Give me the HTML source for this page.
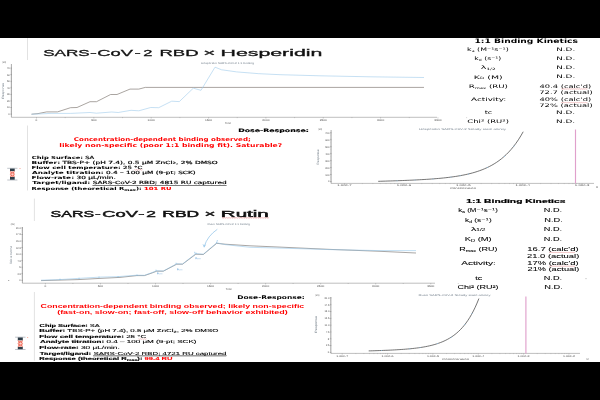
<!DOCTYPE html><html><head><meta charset="utf-8"><title>SPR summary</title><style>html,body{margin:0;padding:0;background:#000;width:600px;height:400px;overflow:hidden}svg{display:block;will-change:transform}</style></head><body>
<svg width="600" height="400" viewBox="0 0 600 400">
<rect x="0" y="0" width="600" height="400" fill="#000"/>
<rect x="0" y="38" width="600" height="324" fill="#fff"/>
<line x1="27.50" y1="38.00" x2="27.50" y2="60.00" stroke="#dadada" stroke-width="0.8" />
<line x1="27.50" y1="125.50" x2="27.50" y2="190.50" stroke="#dadada" stroke-width="0.8" />
<text x="43.22" y="56.00" font-size="9.8" font-family="'Liberation Sans', 'DejaVu Sans', sans-serif" font-weight="normal" fill="#111" text-anchor="start" textLength="46.56" lengthAdjust="spacingAndGlyphs" stroke="#111" stroke-width="0.3">SARS</text>
<text x="90.09" y="56.00" font-size="9.8" font-family="'Liberation Sans', 'DejaVu Sans', sans-serif" font-weight="normal" fill="#111" text-anchor="start" textLength="6.82" lengthAdjust="spacingAndGlyphs" stroke="#111" stroke-width="0.3">-</text>
<text x="97.37" y="56.00" font-size="9.8" font-family="'Liberation Sans', 'DejaVu Sans', sans-serif" font-weight="normal" fill="#111" text-anchor="start" textLength="35.61" lengthAdjust="spacingAndGlyphs" stroke="#111" stroke-width="0.3">CoV</text>
<text x="134.56" y="56.00" font-size="9.8" font-family="'Liberation Sans', 'DejaVu Sans', sans-serif" font-weight="normal" fill="#111" text-anchor="start" textLength="6.27" lengthAdjust="spacingAndGlyphs" stroke="#111" stroke-width="0.3">-</text>
<text x="143.37" y="56.00" font-size="9.8" font-family="'Liberation Sans', 'DejaVu Sans', sans-serif" font-weight="normal" fill="#111" text-anchor="start" textLength="9.16" lengthAdjust="spacingAndGlyphs" stroke="#111" stroke-width="0.3">2</text>
<text x="159.48" y="56.00" font-size="9.8" font-family="'Liberation Sans', 'DejaVu Sans', sans-serif" font-weight="normal" fill="#111" text-anchor="start" textLength="39.11" lengthAdjust="spacingAndGlyphs" stroke="#111" stroke-width="0.3">RBD</text>
<text x="203.25" y="56.00" font-size="9.8" font-family="'Liberation Sans', 'DejaVu Sans', sans-serif" font-weight="normal" fill="#111" text-anchor="start" textLength="12.18" lengthAdjust="spacingAndGlyphs" stroke="#111" stroke-width="0.3">×</text>
<text x="220.55" y="56.00" font-size="9.8" font-family="'Liberation Sans', 'DejaVu Sans', sans-serif" font-weight="normal" fill="#111" text-anchor="start" textLength="101.83" lengthAdjust="spacingAndGlyphs" stroke="#111" stroke-width="0.3">Hesperidin</text>
<line x1="11.40" y1="64.00" x2="11.40" y2="117.30" stroke="#666" stroke-width="0.55" />
<line x1="10.30" y1="114.10" x2="11.80" y2="114.10" stroke="#666" stroke-width="0.45" />
<line x1="10.30" y1="107.53" x2="11.80" y2="107.53" stroke="#666" stroke-width="0.45" />
<line x1="10.30" y1="100.96" x2="11.80" y2="100.96" stroke="#666" stroke-width="0.45" />
<line x1="10.30" y1="94.39" x2="11.80" y2="94.39" stroke="#666" stroke-width="0.45" />
<line x1="10.30" y1="87.82" x2="11.80" y2="87.82" stroke="#666" stroke-width="0.45" />
<line x1="10.30" y1="81.25" x2="11.80" y2="81.25" stroke="#666" stroke-width="0.45" />
<line x1="10.30" y1="74.68" x2="11.80" y2="74.68" stroke="#666" stroke-width="0.45" />
<line x1="10.30" y1="68.11" x2="11.80" y2="68.11" stroke="#666" stroke-width="0.45" />
<line x1="10.80" y1="112.79" x2="11.40" y2="112.79" stroke="#666" stroke-width="0.3" />
<line x1="10.80" y1="111.47" x2="11.40" y2="111.47" stroke="#666" stroke-width="0.3" />
<line x1="10.80" y1="110.16" x2="11.40" y2="110.16" stroke="#666" stroke-width="0.3" />
<line x1="10.80" y1="108.84" x2="11.40" y2="108.84" stroke="#666" stroke-width="0.3" />
<line x1="10.80" y1="106.22" x2="11.40" y2="106.22" stroke="#666" stroke-width="0.3" />
<line x1="10.80" y1="104.90" x2="11.40" y2="104.90" stroke="#666" stroke-width="0.3" />
<line x1="10.80" y1="103.59" x2="11.40" y2="103.59" stroke="#666" stroke-width="0.3" />
<line x1="10.80" y1="102.27" x2="11.40" y2="102.27" stroke="#666" stroke-width="0.3" />
<line x1="10.80" y1="99.65" x2="11.40" y2="99.65" stroke="#666" stroke-width="0.3" />
<line x1="10.80" y1="98.33" x2="11.40" y2="98.33" stroke="#666" stroke-width="0.3" />
<line x1="10.80" y1="97.02" x2="11.40" y2="97.02" stroke="#666" stroke-width="0.3" />
<line x1="10.80" y1="95.70" x2="11.40" y2="95.70" stroke="#666" stroke-width="0.3" />
<line x1="10.80" y1="93.08" x2="11.40" y2="93.08" stroke="#666" stroke-width="0.3" />
<line x1="10.80" y1="91.76" x2="11.40" y2="91.76" stroke="#666" stroke-width="0.3" />
<line x1="10.80" y1="90.45" x2="11.40" y2="90.45" stroke="#666" stroke-width="0.3" />
<line x1="10.80" y1="89.13" x2="11.40" y2="89.13" stroke="#666" stroke-width="0.3" />
<line x1="10.80" y1="86.51" x2="11.40" y2="86.51" stroke="#666" stroke-width="0.3" />
<line x1="10.80" y1="85.19" x2="11.40" y2="85.19" stroke="#666" stroke-width="0.3" />
<line x1="10.80" y1="83.88" x2="11.40" y2="83.88" stroke="#666" stroke-width="0.3" />
<line x1="10.80" y1="82.56" x2="11.40" y2="82.56" stroke="#666" stroke-width="0.3" />
<line x1="10.80" y1="79.94" x2="11.40" y2="79.94" stroke="#666" stroke-width="0.3" />
<line x1="10.80" y1="78.62" x2="11.40" y2="78.62" stroke="#666" stroke-width="0.3" />
<line x1="10.80" y1="77.31" x2="11.40" y2="77.31" stroke="#666" stroke-width="0.3" />
<line x1="10.80" y1="75.99" x2="11.40" y2="75.99" stroke="#666" stroke-width="0.3" />
<line x1="10.80" y1="73.37" x2="11.40" y2="73.37" stroke="#666" stroke-width="0.3" />
<line x1="10.80" y1="72.05" x2="11.40" y2="72.05" stroke="#666" stroke-width="0.3" />
<line x1="10.80" y1="70.74" x2="11.40" y2="70.74" stroke="#666" stroke-width="0.3" />
<line x1="10.80" y1="69.42" x2="11.40" y2="69.42" stroke="#666" stroke-width="0.3" />
<line x1="11.40" y1="117.30" x2="437.00" y2="117.30" stroke="#8a8a8a" stroke-width="0.55" />
<text x="9.80" y="115.00" font-size="2.6" font-family="'Liberation Sans', 'DejaVu Sans', sans-serif" font-weight="normal" fill="#505050" text-anchor="end" textLength="1.45" lengthAdjust="spacingAndGlyphs" text-rendering="geometricPrecision" >0</text>
<text x="9.80" y="108.43" font-size="2.6" font-family="'Liberation Sans', 'DejaVu Sans', sans-serif" font-weight="normal" fill="#505050" text-anchor="end" textLength="2.90" lengthAdjust="spacingAndGlyphs" text-rendering="geometricPrecision" >10</text>
<text x="9.80" y="101.86" font-size="2.6" font-family="'Liberation Sans', 'DejaVu Sans', sans-serif" font-weight="normal" fill="#505050" text-anchor="end" textLength="2.90" lengthAdjust="spacingAndGlyphs" text-rendering="geometricPrecision" >20</text>
<text x="9.80" y="95.29" font-size="2.6" font-family="'Liberation Sans', 'DejaVu Sans', sans-serif" font-weight="normal" fill="#505050" text-anchor="end" textLength="2.90" lengthAdjust="spacingAndGlyphs" text-rendering="geometricPrecision" >30</text>
<text x="9.80" y="88.72" font-size="2.6" font-family="'Liberation Sans', 'DejaVu Sans', sans-serif" font-weight="normal" fill="#505050" text-anchor="end" textLength="2.90" lengthAdjust="spacingAndGlyphs" text-rendering="geometricPrecision" >40</text>
<text x="9.80" y="82.15" font-size="2.6" font-family="'Liberation Sans', 'DejaVu Sans', sans-serif" font-weight="normal" fill="#505050" text-anchor="end" textLength="2.90" lengthAdjust="spacingAndGlyphs" text-rendering="geometricPrecision" >50</text>
<text x="9.80" y="75.58" font-size="2.6" font-family="'Liberation Sans', 'DejaVu Sans', sans-serif" font-weight="normal" fill="#505050" text-anchor="end" textLength="2.90" lengthAdjust="spacingAndGlyphs" text-rendering="geometricPrecision" >60</text>
<text x="9.80" y="69.01" font-size="2.6" font-family="'Liberation Sans', 'DejaVu Sans', sans-serif" font-weight="normal" fill="#505050" text-anchor="end" textLength="2.90" lengthAdjust="spacingAndGlyphs" text-rendering="geometricPrecision" >70</text>
<line x1="36.50" y1="117.30" x2="36.50" y2="118.50" stroke="#8a8a8a" stroke-width="0.45" />
<text x="36.50" y="121.30" font-size="2.6" font-family="'Liberation Sans', 'DejaVu Sans', sans-serif" font-weight="normal" fill="#505050" text-anchor="middle" textLength="1.80" lengthAdjust="spacingAndGlyphs" text-rendering="geometricPrecision" >0</text>
<line x1="65.17" y1="117.30" x2="65.17" y2="118.10" stroke="#8a8a8a" stroke-width="0.45" />
<line x1="93.85" y1="117.30" x2="93.85" y2="118.50" stroke="#8a8a8a" stroke-width="0.45" />
<text x="93.85" y="121.30" font-size="2.6" font-family="'Liberation Sans', 'DejaVu Sans', sans-serif" font-weight="normal" fill="#505050" text-anchor="middle" textLength="5.40" lengthAdjust="spacingAndGlyphs" text-rendering="geometricPrecision" >500</text>
<line x1="122.52" y1="117.30" x2="122.52" y2="118.10" stroke="#8a8a8a" stroke-width="0.45" />
<line x1="151.20" y1="117.30" x2="151.20" y2="118.50" stroke="#8a8a8a" stroke-width="0.45" />
<text x="151.20" y="121.30" font-size="2.6" font-family="'Liberation Sans', 'DejaVu Sans', sans-serif" font-weight="normal" fill="#505050" text-anchor="middle" textLength="7.20" lengthAdjust="spacingAndGlyphs" text-rendering="geometricPrecision" >1000</text>
<line x1="179.88" y1="117.30" x2="179.88" y2="118.10" stroke="#8a8a8a" stroke-width="0.45" />
<line x1="208.55" y1="117.30" x2="208.55" y2="118.50" stroke="#8a8a8a" stroke-width="0.45" />
<text x="208.55" y="121.30" font-size="2.6" font-family="'Liberation Sans', 'DejaVu Sans', sans-serif" font-weight="normal" fill="#505050" text-anchor="middle" textLength="7.20" lengthAdjust="spacingAndGlyphs" text-rendering="geometricPrecision" >1500</text>
<line x1="237.22" y1="117.30" x2="237.22" y2="118.10" stroke="#8a8a8a" stroke-width="0.45" />
<line x1="265.90" y1="117.30" x2="265.90" y2="118.50" stroke="#8a8a8a" stroke-width="0.45" />
<text x="265.90" y="121.30" font-size="2.6" font-family="'Liberation Sans', 'DejaVu Sans', sans-serif" font-weight="normal" fill="#505050" text-anchor="middle" textLength="7.20" lengthAdjust="spacingAndGlyphs" text-rendering="geometricPrecision" >2000</text>
<line x1="294.57" y1="117.30" x2="294.57" y2="118.10" stroke="#8a8a8a" stroke-width="0.45" />
<line x1="323.25" y1="117.30" x2="323.25" y2="118.50" stroke="#8a8a8a" stroke-width="0.45" />
<text x="323.25" y="121.30" font-size="2.6" font-family="'Liberation Sans', 'DejaVu Sans', sans-serif" font-weight="normal" fill="#505050" text-anchor="middle" textLength="7.20" lengthAdjust="spacingAndGlyphs" text-rendering="geometricPrecision" >2500</text>
<line x1="351.93" y1="117.30" x2="351.93" y2="118.10" stroke="#8a8a8a" stroke-width="0.45" />
<line x1="380.60" y1="117.30" x2="380.60" y2="118.50" stroke="#8a8a8a" stroke-width="0.45" />
<text x="380.60" y="121.30" font-size="2.6" font-family="'Liberation Sans', 'DejaVu Sans', sans-serif" font-weight="normal" fill="#505050" text-anchor="middle" textLength="7.20" lengthAdjust="spacingAndGlyphs" text-rendering="geometricPrecision" >3000</text>
<line x1="409.27" y1="117.30" x2="409.27" y2="118.10" stroke="#8a8a8a" stroke-width="0.45" />
<line x1="437.95" y1="117.30" x2="437.95" y2="118.50" stroke="#8a8a8a" stroke-width="0.45" />
<text x="437.95" y="121.30" font-size="2.6" font-family="'Liberation Sans', 'DejaVu Sans', sans-serif" font-weight="normal" fill="#505050" text-anchor="middle" textLength="7.20" lengthAdjust="spacingAndGlyphs" text-rendering="geometricPrecision" >3500</text>
<line x1="466.62" y1="117.30" x2="466.62" y2="118.10" stroke="#8a8a8a" stroke-width="0.45" />
<text x="228.00" y="123.60" font-size="2.6" font-family="'Liberation Sans', 'DejaVu Sans', sans-serif" font-weight="normal" fill="#505050" text-anchor="middle" textLength="6.20" lengthAdjust="spacingAndGlyphs" text-rendering="geometricPrecision" >Time</text>
<text x="2.40" y="63.20" font-size="2.7" font-family="'Liberation Sans', 'DejaVu Sans', sans-serif" font-weight="normal" fill="#505050" text-anchor="start" textLength="3.80" lengthAdjust="spacingAndGlyphs" text-rendering="geometricPrecision" >(RU)</text>
<text transform="translate(3.60,90.80) rotate(-90)" font-size="3.2" font-family="Liberation Sans, sans-serif" fill="#6a7680" text-anchor="middle" textLength="16.00" lengthAdjust="spacingAndGlyphs" text-rendering="geometricPrecision">Response</text>
<text x="201.00" y="64.00" font-size="2.6" font-family="'Liberation Sans', 'DejaVu Sans', sans-serif" font-weight="normal" fill="#76828e" text-anchor="start" textLength="53.00" lengthAdjust="spacingAndGlyphs" text-rendering="geometricPrecision" >Hesperidin SARS-CoV-2 1:1 binding</text>
<polyline points="31.50,114.20 38.00,113.60 46.70,111.90 57.50,111.90 70.50,107.70 77.00,107.50 90.00,101.70 96.50,101.70 110.60,94.50 117.00,94.50 130.00,89.10 138.80,89.10 145.30,87.40 424.00,87.40" fill="none" stroke="#857e79" stroke-width="0.7" stroke-linejoin="round" />
<polyline points="31.50,114.20 38.00,114.00 51.00,113.40 70.50,113.40 90.00,112.50 96.50,113.20 111.70,112.00 118.20,112.50 131.00,110.30 138.80,110.80 150.70,107.50 158.70,107.70 171.70,101.20 179.30,101.60 193.30,88.20 201.00,90.30 215.00,67.20 221.50,69.75 236.70,71.90 258.30,73.65 280.00,74.70 320.00,75.80 370.00,76.80 424.00,77.50" fill="none" stroke="#9fcbeb" stroke-width="0.6" stroke-linejoin="round" />
<text x="238.28" y="132.30" font-size="4.8" font-family="'DejaVu Sans', 'Liberation Sans', sans-serif" font-weight="bold" fill="#000" text-anchor="start" textLength="70.59" lengthAdjust="spacingAndGlyphs" stroke="#000" stroke-width="0.15">Dose-Response:</text>
<text x="73.85" y="141.30" font-size="5.2" font-family="'DejaVu Sans', 'Liberation Sans', sans-serif" font-weight="bold" fill="#f00" text-anchor="start" textLength="176.94" lengthAdjust="spacingAndGlyphs" >Concentration-dependent binding observed;</text>
<text x="59.36" y="147.20" font-size="5.2" font-family="'DejaVu Sans', 'Liberation Sans', sans-serif" font-weight="bold" fill="#f00" text-anchor="start" textLength="222.84" lengthAdjust="spacingAndGlyphs" >likely non-specific (poor 1:1 binding fit). Saturable?</text>
<text x="31.78" y="158.80" font-size="4.2" font-family="'DejaVu Sans', 'Liberation Sans', sans-serif" font-weight="normal" fill="#000" text-anchor="start" textLength="62.48" lengthAdjust="spacingAndGlyphs" stroke="#000" stroke-width="0.16"><tspan font-weight="bold" stroke-width="0.03">Chip Surface:</tspan> SA</text>
<text x="31.46" y="163.50" font-size="4.2" font-family="'DejaVu Sans', 'Liberation Sans', sans-serif" font-weight="normal" fill="#000" text-anchor="start" textLength="186.26" lengthAdjust="spacingAndGlyphs" stroke="#000" stroke-width="0.16"><tspan font-weight="bold" stroke-width="0.03">Buffer:</tspan> TBS-P+ (pH 7.4), 0.5 μM ZnCl<tspan font-size="3" dy="0.8">2</tspan><tspan dy="-0.8">, 2% DMSO</tspan></text>
<text x="31.44" y="168.80" font-size="4.2" font-family="'DejaVu Sans', 'Liberation Sans', sans-serif" font-weight="normal" fill="#000" text-anchor="start" textLength="110.97" lengthAdjust="spacingAndGlyphs" stroke="#000" stroke-width="0.16"><tspan font-weight="bold" stroke-width="0.03">Flow cell temperature:</tspan> 25 °C</text>
<text x="32.14" y="174.00" font-size="4.2" font-family="'DejaVu Sans', 'Liberation Sans', sans-serif" font-weight="normal" fill="#000" text-anchor="start" textLength="163.53" lengthAdjust="spacingAndGlyphs" stroke="#000" stroke-width="0.16"><tspan font-weight="bold" stroke-width="0.03">Analyte titration:</tspan> 0.4 – 100 μM (9-pt; SCK)</text>
<text x="31.42" y="179.20" font-size="4.2" font-family="'DejaVu Sans', 'Liberation Sans', sans-serif" font-weight="normal" fill="#000" text-anchor="start" textLength="84.43" lengthAdjust="spacingAndGlyphs" stroke="#000" stroke-width="0.16"><tspan font-weight="bold" stroke-width="0.03">Flow-rate:</tspan> 30 μL/min.</text>
<text x="32.22" y="184.20" font-size="4.2" font-family="'DejaVu Sans', 'Liberation Sans', sans-serif" font-weight="normal" fill="#000" text-anchor="start" textLength="194.47" lengthAdjust="spacingAndGlyphs" stroke="#000" stroke-width="0.16"><tspan font-weight="bold" stroke-width="0.03">Target/ligand:</tspan> <tspan text-decoration="underline">SARS-CoV-2 RBD; 4815 RU captured</tspan></text>
<text x="31.47" y="189.80" font-size="4.2" font-family="'DejaVu Sans', 'Liberation Sans', sans-serif" font-weight="normal" fill="#000" text-anchor="start" textLength="140.18" lengthAdjust="spacingAndGlyphs" stroke="#000" stroke-width="0.16"><tspan font-weight="bold" stroke-width="0.03">Response (theoretical R<tspan font-size="3" dy="0.8">max</tspan><tspan dy="-0.8">):</tspan></tspan> <tspan font-weight="bold" fill="#f00" stroke="#f00" stroke-width="0.05">101 RU</tspan></text>
<line x1="7.25" y1="168.30" x2="17.45" y2="168.30" stroke="#a3abb3" stroke-width="0.7" />
<line x1="7.25" y1="180.00" x2="17.45" y2="180.00" stroke="#a3abb3" stroke-width="0.7" />
<rect x="10.00" y="168.60" width="4.70" height="2.70" fill="#2e3d48"/>
<rect x="10.00" y="177.00" width="4.70" height="2.70" fill="#2e3d48"/>
<rect x="10.20" y="171.30" width="4.30" height="5.70" fill="#f8c4b8"/>
<path d="M10.30,171.30 L14.40,177.00 M14.40,171.30 L10.30,177.00 M10.30,174.15 L12.35,171.90 L14.40,174.15 L12.35,176.40 Z" stroke="#ef5f50" stroke-width="0.75" fill="none"/>
<circle cx="12.35" cy="174.15" r="0.6" fill="#fff"/>
<path d="M134.50,169.60 L135.50,170.10 L136.50,169.60 L137.50,170.10 L138.50,169.60 L139.50,170.10 L140.50,169.60 L141.50,170.10 L142.50,169.60" stroke="#e06060" stroke-width="0.35" fill="none"/>
<rect x="19.4" y="168" width="1.2" height="0.8" fill="#f4a090"/>
<line x1="331.10" y1="130.00" x2="331.10" y2="183.40" stroke="#666" stroke-width="0.55" />
<line x1="330.00" y1="132.80" x2="331.50" y2="132.80" stroke="#666" stroke-width="0.45" />
<line x1="330.00" y1="139.77" x2="331.50" y2="139.77" stroke="#666" stroke-width="0.45" />
<line x1="330.00" y1="146.74" x2="331.50" y2="146.74" stroke="#666" stroke-width="0.45" />
<line x1="330.00" y1="153.71" x2="331.50" y2="153.71" stroke="#666" stroke-width="0.45" />
<line x1="330.00" y1="160.68" x2="331.50" y2="160.68" stroke="#666" stroke-width="0.45" />
<line x1="330.00" y1="167.65" x2="331.50" y2="167.65" stroke="#666" stroke-width="0.45" />
<line x1="330.00" y1="174.62" x2="331.50" y2="174.62" stroke="#666" stroke-width="0.45" />
<line x1="330.00" y1="181.59" x2="331.50" y2="181.59" stroke="#666" stroke-width="0.45" />
<line x1="330.50" y1="134.19" x2="331.10" y2="134.19" stroke="#666" stroke-width="0.3" />
<line x1="330.50" y1="135.59" x2="331.10" y2="135.59" stroke="#666" stroke-width="0.3" />
<line x1="330.50" y1="136.98" x2="331.10" y2="136.98" stroke="#666" stroke-width="0.3" />
<line x1="330.50" y1="138.38" x2="331.10" y2="138.38" stroke="#666" stroke-width="0.3" />
<line x1="330.50" y1="141.16" x2="331.10" y2="141.16" stroke="#666" stroke-width="0.3" />
<line x1="330.50" y1="142.56" x2="331.10" y2="142.56" stroke="#666" stroke-width="0.3" />
<line x1="330.50" y1="143.95" x2="331.10" y2="143.95" stroke="#666" stroke-width="0.3" />
<line x1="330.50" y1="145.35" x2="331.10" y2="145.35" stroke="#666" stroke-width="0.3" />
<line x1="330.50" y1="148.13" x2="331.10" y2="148.13" stroke="#666" stroke-width="0.3" />
<line x1="330.50" y1="149.53" x2="331.10" y2="149.53" stroke="#666" stroke-width="0.3" />
<line x1="330.50" y1="150.92" x2="331.10" y2="150.92" stroke="#666" stroke-width="0.3" />
<line x1="330.50" y1="152.32" x2="331.10" y2="152.32" stroke="#666" stroke-width="0.3" />
<line x1="330.50" y1="155.10" x2="331.10" y2="155.10" stroke="#666" stroke-width="0.3" />
<line x1="330.50" y1="156.50" x2="331.10" y2="156.50" stroke="#666" stroke-width="0.3" />
<line x1="330.50" y1="157.89" x2="331.10" y2="157.89" stroke="#666" stroke-width="0.3" />
<line x1="330.50" y1="159.29" x2="331.10" y2="159.29" stroke="#666" stroke-width="0.3" />
<line x1="330.50" y1="162.07" x2="331.10" y2="162.07" stroke="#666" stroke-width="0.3" />
<line x1="330.50" y1="163.47" x2="331.10" y2="163.47" stroke="#666" stroke-width="0.3" />
<line x1="330.50" y1="164.86" x2="331.10" y2="164.86" stroke="#666" stroke-width="0.3" />
<line x1="330.50" y1="166.26" x2="331.10" y2="166.26" stroke="#666" stroke-width="0.3" />
<line x1="330.50" y1="169.04" x2="331.10" y2="169.04" stroke="#666" stroke-width="0.3" />
<line x1="330.50" y1="170.44" x2="331.10" y2="170.44" stroke="#666" stroke-width="0.3" />
<line x1="330.50" y1="171.83" x2="331.10" y2="171.83" stroke="#666" stroke-width="0.3" />
<line x1="330.50" y1="173.23" x2="331.10" y2="173.23" stroke="#666" stroke-width="0.3" />
<line x1="330.50" y1="176.01" x2="331.10" y2="176.01" stroke="#666" stroke-width="0.3" />
<line x1="330.50" y1="177.41" x2="331.10" y2="177.41" stroke="#666" stroke-width="0.3" />
<line x1="330.50" y1="178.80" x2="331.10" y2="178.80" stroke="#666" stroke-width="0.3" />
<line x1="330.50" y1="180.20" x2="331.10" y2="180.20" stroke="#666" stroke-width="0.3" />
<line x1="331.10" y1="183.40" x2="594.00" y2="183.40" stroke="#8a8a8a" stroke-width="0.55" />
<text x="329.50" y="133.70" font-size="2.6" font-family="'Liberation Sans', 'DejaVu Sans', sans-serif" font-weight="normal" fill="#505050" text-anchor="end" textLength="4.35" lengthAdjust="spacingAndGlyphs" text-rendering="geometricPrecision" >700</text>
<text x="329.50" y="140.67" font-size="2.6" font-family="'Liberation Sans', 'DejaVu Sans', sans-serif" font-weight="normal" fill="#505050" text-anchor="end" textLength="4.35" lengthAdjust="spacingAndGlyphs" text-rendering="geometricPrecision" >600</text>
<text x="329.50" y="147.64" font-size="2.6" font-family="'Liberation Sans', 'DejaVu Sans', sans-serif" font-weight="normal" fill="#505050" text-anchor="end" textLength="4.35" lengthAdjust="spacingAndGlyphs" text-rendering="geometricPrecision" >500</text>
<text x="329.50" y="154.61" font-size="2.6" font-family="'Liberation Sans', 'DejaVu Sans', sans-serif" font-weight="normal" fill="#505050" text-anchor="end" textLength="4.35" lengthAdjust="spacingAndGlyphs" text-rendering="geometricPrecision" >400</text>
<text x="329.50" y="161.58" font-size="2.6" font-family="'Liberation Sans', 'DejaVu Sans', sans-serif" font-weight="normal" fill="#505050" text-anchor="end" textLength="4.35" lengthAdjust="spacingAndGlyphs" text-rendering="geometricPrecision" >300</text>
<text x="329.50" y="168.55" font-size="2.6" font-family="'Liberation Sans', 'DejaVu Sans', sans-serif" font-weight="normal" fill="#505050" text-anchor="end" textLength="4.35" lengthAdjust="spacingAndGlyphs" text-rendering="geometricPrecision" >200</text>
<text x="329.50" y="175.52" font-size="2.6" font-family="'Liberation Sans', 'DejaVu Sans', sans-serif" font-weight="normal" fill="#505050" text-anchor="end" textLength="4.35" lengthAdjust="spacingAndGlyphs" text-rendering="geometricPrecision" >100</text>
<text x="329.50" y="182.49" font-size="2.6" font-family="'Liberation Sans', 'DejaVu Sans', sans-serif" font-weight="normal" fill="#505050" text-anchor="end" textLength="1.45" lengthAdjust="spacingAndGlyphs" text-rendering="geometricPrecision" >0</text>
<line x1="344.50" y1="183.40" x2="344.50" y2="184.60" stroke="#8a8a8a" stroke-width="0.45" />
<text x="344.50" y="186.30" font-size="2.6" font-family="'Liberation Sans', 'DejaVu Sans', sans-serif" font-weight="normal" fill="#505050" text-anchor="middle" textLength="14.50" lengthAdjust="spacingAndGlyphs" text-rendering="geometricPrecision" >1.00e-7</text>
<line x1="362.38" y1="183.40" x2="362.38" y2="184.10" stroke="#8a8a8a" stroke-width="0.35" />
<line x1="372.84" y1="183.40" x2="372.84" y2="184.10" stroke="#8a8a8a" stroke-width="0.35" />
<line x1="380.26" y1="183.40" x2="380.26" y2="184.10" stroke="#8a8a8a" stroke-width="0.35" />
<line x1="386.02" y1="183.40" x2="386.02" y2="184.10" stroke="#8a8a8a" stroke-width="0.35" />
<line x1="390.72" y1="183.40" x2="390.72" y2="184.10" stroke="#8a8a8a" stroke-width="0.35" />
<line x1="394.70" y1="183.40" x2="394.70" y2="184.10" stroke="#8a8a8a" stroke-width="0.35" />
<line x1="398.14" y1="183.40" x2="398.14" y2="184.10" stroke="#8a8a8a" stroke-width="0.35" />
<line x1="401.18" y1="183.40" x2="401.18" y2="184.10" stroke="#8a8a8a" stroke-width="0.35" />
<line x1="403.90" y1="183.40" x2="403.90" y2="184.60" stroke="#8a8a8a" stroke-width="0.45" />
<text x="403.90" y="186.30" font-size="2.6" font-family="'Liberation Sans', 'DejaVu Sans', sans-serif" font-weight="normal" fill="#505050" text-anchor="middle" textLength="14.50" lengthAdjust="spacingAndGlyphs" text-rendering="geometricPrecision" >1.00e-6</text>
<line x1="421.78" y1="183.40" x2="421.78" y2="184.10" stroke="#8a8a8a" stroke-width="0.35" />
<line x1="432.24" y1="183.40" x2="432.24" y2="184.10" stroke="#8a8a8a" stroke-width="0.35" />
<line x1="439.66" y1="183.40" x2="439.66" y2="184.10" stroke="#8a8a8a" stroke-width="0.35" />
<line x1="445.42" y1="183.40" x2="445.42" y2="184.10" stroke="#8a8a8a" stroke-width="0.35" />
<line x1="450.12" y1="183.40" x2="450.12" y2="184.10" stroke="#8a8a8a" stroke-width="0.35" />
<line x1="454.10" y1="183.40" x2="454.10" y2="184.10" stroke="#8a8a8a" stroke-width="0.35" />
<line x1="457.54" y1="183.40" x2="457.54" y2="184.10" stroke="#8a8a8a" stroke-width="0.35" />
<line x1="460.58" y1="183.40" x2="460.58" y2="184.10" stroke="#8a8a8a" stroke-width="0.35" />
<line x1="463.30" y1="183.40" x2="463.30" y2="184.60" stroke="#8a8a8a" stroke-width="0.45" />
<text x="463.30" y="186.30" font-size="2.6" font-family="'Liberation Sans', 'DejaVu Sans', sans-serif" font-weight="normal" fill="#505050" text-anchor="middle" textLength="14.50" lengthAdjust="spacingAndGlyphs" text-rendering="geometricPrecision" >1.00e-5</text>
<line x1="481.18" y1="183.40" x2="481.18" y2="184.10" stroke="#8a8a8a" stroke-width="0.35" />
<line x1="491.64" y1="183.40" x2="491.64" y2="184.10" stroke="#8a8a8a" stroke-width="0.35" />
<line x1="499.06" y1="183.40" x2="499.06" y2="184.10" stroke="#8a8a8a" stroke-width="0.35" />
<line x1="504.82" y1="183.40" x2="504.82" y2="184.10" stroke="#8a8a8a" stroke-width="0.35" />
<line x1="509.52" y1="183.40" x2="509.52" y2="184.10" stroke="#8a8a8a" stroke-width="0.35" />
<line x1="513.50" y1="183.40" x2="513.50" y2="184.10" stroke="#8a8a8a" stroke-width="0.35" />
<line x1="516.94" y1="183.40" x2="516.94" y2="184.10" stroke="#8a8a8a" stroke-width="0.35" />
<line x1="519.98" y1="183.40" x2="519.98" y2="184.10" stroke="#8a8a8a" stroke-width="0.35" />
<line x1="522.70" y1="183.40" x2="522.70" y2="184.60" stroke="#8a8a8a" stroke-width="0.45" />
<text x="522.70" y="186.30" font-size="2.6" font-family="'Liberation Sans', 'DejaVu Sans', sans-serif" font-weight="normal" fill="#505050" text-anchor="middle" textLength="14.50" lengthAdjust="spacingAndGlyphs" text-rendering="geometricPrecision" >1.00e-4</text>
<line x1="540.58" y1="183.40" x2="540.58" y2="184.10" stroke="#8a8a8a" stroke-width="0.35" />
<line x1="551.04" y1="183.40" x2="551.04" y2="184.10" stroke="#8a8a8a" stroke-width="0.35" />
<line x1="558.46" y1="183.40" x2="558.46" y2="184.10" stroke="#8a8a8a" stroke-width="0.35" />
<line x1="564.22" y1="183.40" x2="564.22" y2="184.10" stroke="#8a8a8a" stroke-width="0.35" />
<line x1="568.92" y1="183.40" x2="568.92" y2="184.10" stroke="#8a8a8a" stroke-width="0.35" />
<line x1="572.90" y1="183.40" x2="572.90" y2="184.10" stroke="#8a8a8a" stroke-width="0.35" />
<line x1="576.34" y1="183.40" x2="576.34" y2="184.10" stroke="#8a8a8a" stroke-width="0.35" />
<line x1="579.38" y1="183.40" x2="579.38" y2="184.10" stroke="#8a8a8a" stroke-width="0.35" />
<line x1="582.10" y1="183.40" x2="582.10" y2="184.60" stroke="#8a8a8a" stroke-width="0.45" />
<text x="582.10" y="186.30" font-size="2.6" font-family="'Liberation Sans', 'DejaVu Sans', sans-serif" font-weight="normal" fill="#505050" text-anchor="middle" textLength="14.50" lengthAdjust="spacingAndGlyphs" text-rendering="geometricPrecision" >1.00e-3</text>
<text x="463.00" y="189.00" font-size="2.6" font-family="'Liberation Sans', 'DejaVu Sans', sans-serif" font-weight="normal" fill="#505050" text-anchor="middle" textLength="26.00" lengthAdjust="spacingAndGlyphs" text-rendering="geometricPrecision" >Concentration</text>
<text x="596.00" y="187.50" font-size="2.5" font-family="'Liberation Sans', 'DejaVu Sans', sans-serif" font-weight="normal" fill="#505050" text-anchor="start" text-rendering="geometricPrecision" >M</text>
<text x="318.30" y="129.50" font-size="2.7" font-family="'Liberation Sans', 'DejaVu Sans', sans-serif" font-weight="normal" fill="#505050" text-anchor="start" textLength="3.80" lengthAdjust="spacingAndGlyphs" text-rendering="geometricPrecision" >(RU)</text>
<text transform="translate(318.80,157.00) rotate(-90)" font-size="3.2" font-family="Liberation Sans, sans-serif" fill="#6a7680" text-anchor="middle" textLength="15.40" lengthAdjust="spacingAndGlyphs" text-rendering="geometricPrecision">Response</text>
<text x="419.00" y="129.90" font-size="2.6" font-family="'Liberation Sans', 'DejaVu Sans', sans-serif" font-weight="normal" fill="#76828e" text-anchor="start" textLength="87.00" lengthAdjust="spacingAndGlyphs" text-rendering="geometricPrecision" >Hesperidin SARS-CoV-2 Steady state affinity</text>
<polyline points="378.20,181.32 380.62,181.25 383.03,181.18 385.45,181.11 387.87,181.03 390.28,180.96 392.70,180.88 395.12,180.80 397.53,180.71 399.95,180.63 402.37,180.54 404.78,180.44 407.20,180.34 409.62,180.24 412.03,180.13 414.45,180.02 416.87,179.90 419.28,179.77 421.70,179.64 424.12,179.50 426.53,179.35 428.95,179.19 431.37,179.02 433.78,178.84 436.20,178.64 438.62,178.43 441.03,178.21 443.45,177.97 445.87,177.71 448.28,177.43 450.70,177.12 453.12,176.80 455.53,176.44 457.95,176.06 460.37,175.64 462.78,175.19 465.20,174.69 467.62,174.16 470.03,173.58 472.45,172.94 474.87,172.25 477.28,171.49 479.70,170.67 482.12,169.77 484.53,168.78 486.95,167.71 489.37,166.53 491.78,165.25 494.20,163.84 496.62,162.30 499.03,160.61 501.45,158.77 503.87,156.74 506.28,154.53 508.70,152.10 511.12,149.43 513.53,146.51 515.95,143.31 518.37,139.80 520.78,135.95 523.20,131.73" fill="none" stroke="#3a3a3a" stroke-width="0.7" stroke-linejoin="round" />
<circle cx="397.00" cy="180.73" r="0.5" fill="#8cc0e6"/>
<circle cx="415.00" cy="179.99" r="0.5" fill="#8cc0e6"/>
<circle cx="433.00" cy="178.90" r="0.5" fill="#8cc0e6"/>
<circle cx="451.00" cy="177.08" r="0.5" fill="#8cc0e6"/>
<circle cx="460.00" cy="175.71" r="0.5" fill="#8cc0e6"/>
<circle cx="468.50" cy="173.95" r="0.5" fill="#8cc0e6"/>
<circle cx="487.20" cy="167.59" r="0.5" fill="#8cc0e6"/>
<circle cx="504.50" cy="156.18" r="0.5" fill="#8cc0e6"/>
<circle cx="514.00" cy="145.92" r="0.5" fill="#8cc0e6"/>
<line x1="575.50" y1="129.50" x2="575.50" y2="183.40" stroke="#e0a0cc" stroke-width="1.15" />
<text x="474.47" y="43.00" font-size="6.1" font-family="'DejaVu Sans', 'Liberation Sans', sans-serif" font-weight="bold" fill="#000" text-anchor="start" textLength="103.47" lengthAdjust="spacingAndGlyphs" >1:1 Binding Kinetics</text>
<text x="467.11" y="51.10" font-size="4.9" font-family="'DejaVu Sans', 'Liberation Sans', sans-serif" font-weight="normal" fill="#000" text-anchor="start" textLength="41.79" lengthAdjust="spacingAndGlyphs" >k<tspan font-size="60%" dy="0.7">a</tspan><tspan dy="-0.7"> </tspan>(M<tspan font-family="DejaVu Sans">⁻¹</tspan>s<tspan font-family="DejaVu Sans">⁻¹</tspan>)</text>
<text x="556.23" y="51.10" font-size="4.9" font-family="'DejaVu Sans', 'Liberation Sans', sans-serif" font-weight="normal" fill="#000" text-anchor="start" textLength="19.02" lengthAdjust="spacingAndGlyphs" >N.D.</text>
<text x="474.25" y="60.25" font-size="4.9" font-family="'DejaVu Sans', 'Liberation Sans', sans-serif" font-weight="normal" fill="#000" text-anchor="start" textLength="27.12" lengthAdjust="spacingAndGlyphs" >k<tspan font-size="60%" dy="0.7">d</tspan><tspan dy="-0.7"> </tspan>(s<tspan font-family="DejaVu Sans">⁻¹</tspan>)</text>
<text x="556.23" y="60.20" font-size="4.9" font-family="'DejaVu Sans', 'Liberation Sans', sans-serif" font-weight="normal" fill="#000" text-anchor="start" textLength="19.02" lengthAdjust="spacingAndGlyphs" >N.D.</text>
<text x="480.80" y="69.30" font-size="4.9" font-family="'DejaVu Sans', 'Liberation Sans', sans-serif" font-weight="normal" fill="#000" text-anchor="start" textLength="14.88" lengthAdjust="spacingAndGlyphs" >λ<tspan font-size="60%" dy="0.7">1/2</tspan><tspan dy="-0.7"></tspan></text>
<text x="556.23" y="69.20" font-size="4.9" font-family="'DejaVu Sans', 'Liberation Sans', sans-serif" font-weight="normal" fill="#000" text-anchor="start" textLength="19.02" lengthAdjust="spacingAndGlyphs" >N.D.</text>
<text x="473.86" y="78.60" font-size="4.9" font-family="'DejaVu Sans', 'Liberation Sans', sans-serif" font-weight="normal" fill="#000" text-anchor="start" textLength="28.87" lengthAdjust="spacingAndGlyphs" >K<tspan font-size="60%" dy="0.7">D</tspan><tspan dy="-0.7"> </tspan>(M)</text>
<text x="556.23" y="78.40" font-size="4.9" font-family="'DejaVu Sans', 'Liberation Sans', sans-serif" font-weight="normal" fill="#000" text-anchor="start" textLength="19.02" lengthAdjust="spacingAndGlyphs" >N.D.</text>
<text x="468.79" y="88.20" font-size="4.9" font-family="'DejaVu Sans', 'Liberation Sans', sans-serif" font-weight="normal" fill="#000" text-anchor="start" textLength="39.24" lengthAdjust="spacingAndGlyphs" >R<tspan font-size="60%" dy="0.7">max</tspan><tspan dy="-0.7"> </tspan>(RU)</text>
<text x="539.60" y="87.80" font-size="4.9" font-family="'DejaVu Sans', 'Liberation Sans', sans-serif" font-weight="normal" fill="#000" text-anchor="start" textLength="51.62" lengthAdjust="spacingAndGlyphs" >40.4 (calc'd)</text>
<path d="M561.21,88.80 L562.22,89.15 L563.23,88.80 L564.24,89.15 L565.25,88.80 L566.26,89.15 L567.27,88.80 L568.28,89.15 L569.29,88.80 L570.30,89.15 L571.31,88.80 L572.32,89.15 L573.33,88.80 L574.34,89.15 L575.35,88.80 L576.36,89.15 L577.37,88.80 L578.38,89.15 L579.39,88.80 L580.40,89.15 L581.41,88.80 L582.42,89.15 L583.43,88.80 L584.44,89.15 L585.45,88.80 L586.46,89.15 L587.47,88.80" stroke="#e06060" stroke-width="0.35" fill="none"/>
<text x="539.32" y="93.80" font-size="4.9" font-family="'DejaVu Sans', 'Liberation Sans', sans-serif" font-weight="normal" fill="#000" text-anchor="start" textLength="53.40" lengthAdjust="spacingAndGlyphs" >72.7 (actual)</text>
<text x="471.13" y="100.60" font-size="4.9" font-family="'DejaVu Sans', 'Liberation Sans', sans-serif" font-weight="normal" fill="#000" text-anchor="start" textLength="35.17" lengthAdjust="spacingAndGlyphs" >Activity:</text>
<text x="539.59" y="101.40" font-size="4.9" font-family="'DejaVu Sans', 'Liberation Sans', sans-serif" font-weight="normal" fill="#000" text-anchor="start" textLength="51.62" lengthAdjust="spacingAndGlyphs" >40% (calc'd)</text>
<path d="M561.21,102.40 L562.22,102.75 L563.23,102.40 L564.24,102.75 L565.25,102.40 L566.26,102.75 L567.27,102.40 L568.28,102.75 L569.29,102.40 L570.30,102.75 L571.31,102.40 L572.32,102.75 L573.33,102.40 L574.34,102.75 L575.35,102.40 L576.36,102.75 L577.37,102.40 L578.38,102.75 L579.39,102.40 L580.40,102.75 L581.41,102.40 L582.42,102.75 L583.43,102.40 L584.44,102.75 L585.45,102.40 L586.46,102.75 L587.47,102.40" stroke="#e06060" stroke-width="0.35" fill="none"/>
<text x="539.32" y="106.80" font-size="4.9" font-family="'DejaVu Sans', 'Liberation Sans', sans-serif" font-weight="normal" fill="#000" text-anchor="start" textLength="53.40" lengthAdjust="spacingAndGlyphs" >72% (actual)</text>
<text x="484.68" y="114.20" font-size="4.9" font-family="'DejaVu Sans', 'Liberation Sans', sans-serif" font-weight="normal" fill="#000" text-anchor="start" textLength="7.62" lengthAdjust="spacingAndGlyphs" >tc</text>
<text x="556.13" y="113.90" font-size="4.9" font-family="'DejaVu Sans', 'Liberation Sans', sans-serif" font-weight="normal" fill="#000" text-anchor="start" textLength="19.02" lengthAdjust="spacingAndGlyphs" >N.D.</text>
<text x="467.33" y="123.20" font-size="4.9" font-family="'DejaVu Sans', 'Liberation Sans', sans-serif" font-weight="normal" fill="#000" text-anchor="start" textLength="41.65" lengthAdjust="spacingAndGlyphs" >Chi² (RU²)</text>
<text x="556.13" y="122.90" font-size="4.9" font-family="'DejaVu Sans', 'Liberation Sans', sans-serif" font-weight="normal" fill="#000" text-anchor="start" textLength="19.02" lengthAdjust="spacingAndGlyphs" >N.D.</text>
<line x1="34.40" y1="198.60" x2="34.40" y2="221.00" stroke="#dadada" stroke-width="0.8" />
<line x1="34.40" y1="292.00" x2="34.40" y2="360.60" stroke="#dadada" stroke-width="0.8" />
<text x="50.57" y="216.50" font-size="9.6" font-family="'Liberation Sans', 'DejaVu Sans', sans-serif" font-weight="normal" fill="#111" text-anchor="start" textLength="43.56" lengthAdjust="spacingAndGlyphs" stroke="#111" stroke-width="0.45">SARS</text>
<text x="95.04" y="216.50" font-size="9.6" font-family="'Liberation Sans', 'DejaVu Sans', sans-serif" font-weight="normal" fill="#111" text-anchor="start" textLength="5.73" lengthAdjust="spacingAndGlyphs" stroke="#111" stroke-width="0.45">-</text>
<text x="102.37" y="216.50" font-size="9.6" font-family="'Liberation Sans', 'DejaVu Sans', sans-serif" font-weight="normal" fill="#111" text-anchor="start" textLength="35.61" lengthAdjust="spacingAndGlyphs" stroke="#111" stroke-width="0.45">CoV</text>
<text x="138.37" y="216.50" font-size="9.6" font-family="'Liberation Sans', 'DejaVu Sans', sans-serif" font-weight="normal" fill="#111" text-anchor="start" textLength="6.21" lengthAdjust="spacingAndGlyphs" stroke="#111" stroke-width="0.45">-</text>
<text x="146.23" y="216.50" font-size="9.6" font-family="'Liberation Sans', 'DejaVu Sans', sans-serif" font-weight="normal" fill="#111" text-anchor="start" textLength="9.64" lengthAdjust="spacingAndGlyphs" stroke="#111" stroke-width="0.45">2</text>
<text x="162.32" y="216.50" font-size="9.6" font-family="'Liberation Sans', 'DejaVu Sans', sans-serif" font-weight="normal" fill="#111" text-anchor="start" textLength="36.81" lengthAdjust="spacingAndGlyphs" stroke="#111" stroke-width="0.45">RBD</text>
<text x="204.49" y="216.50" font-size="9.6" font-family="'Liberation Sans', 'DejaVu Sans', sans-serif" font-weight="normal" fill="#111" text-anchor="start" textLength="11.00" lengthAdjust="spacingAndGlyphs" stroke="#111" stroke-width="0.45">×</text>
<text x="220.81" y="216.50" font-size="9.6" font-family="'Liberation Sans', 'DejaVu Sans', sans-serif" font-weight="normal" fill="#111" text-anchor="start" textLength="48.02" lengthAdjust="spacingAndGlyphs" stroke="#111" stroke-width="0.45">Rutin</text>
<path d="M222,217.6 L223.18,218.15 L224.35,217.60 L225.53,218.15 L226.70,217.60 L227.88,218.15 L229.05,217.60 L230.22,218.15 L231.40,217.60 L232.57,218.15 L233.75,217.60 L234.93,218.15 L236.10,217.60 L237.28,218.15 L238.45,217.60 L239.62,218.15 L240.80,217.60 L241.97,218.15 L243.15,217.60 L244.32,218.15 L245.50,217.60 L246.68,218.15 L247.85,217.60 L249.03,218.15 L250.20,217.60 L251.38,218.15 L252.55,217.60 L253.72,218.15 L254.90,217.60 L256.07,218.15 L257.25,217.60 L258.43,218.15 L259.60,217.60 L260.77,218.15 L261.95,217.60 L263.12,218.15 L264.30,217.60 L265.48,218.15 L266.65,217.60 L267.82,218.15 L269.00,217.60" stroke="#e05a5a" stroke-width="0.4" fill="none"/>
<line x1="22.40" y1="227.00" x2="22.40" y2="283.20" stroke="#666" stroke-width="0.55" />
<line x1="21.30" y1="280.30" x2="22.80" y2="280.30" stroke="#666" stroke-width="0.45" />
<line x1="21.30" y1="273.76" x2="22.80" y2="273.76" stroke="#666" stroke-width="0.45" />
<line x1="21.30" y1="267.22" x2="22.80" y2="267.22" stroke="#666" stroke-width="0.45" />
<line x1="21.30" y1="260.68" x2="22.80" y2="260.68" stroke="#666" stroke-width="0.45" />
<line x1="21.30" y1="254.14" x2="22.80" y2="254.14" stroke="#666" stroke-width="0.45" />
<line x1="21.30" y1="247.60" x2="22.80" y2="247.60" stroke="#666" stroke-width="0.45" />
<line x1="21.30" y1="241.06" x2="22.80" y2="241.06" stroke="#666" stroke-width="0.45" />
<line x1="21.30" y1="234.52" x2="22.80" y2="234.52" stroke="#666" stroke-width="0.45" />
<line x1="21.30" y1="227.98" x2="22.80" y2="227.98" stroke="#666" stroke-width="0.45" />
<line x1="21.80" y1="278.99" x2="22.40" y2="278.99" stroke="#666" stroke-width="0.3" />
<line x1="21.80" y1="277.68" x2="22.40" y2="277.68" stroke="#666" stroke-width="0.3" />
<line x1="21.80" y1="276.38" x2="22.40" y2="276.38" stroke="#666" stroke-width="0.3" />
<line x1="21.80" y1="275.07" x2="22.40" y2="275.07" stroke="#666" stroke-width="0.3" />
<line x1="21.80" y1="272.45" x2="22.40" y2="272.45" stroke="#666" stroke-width="0.3" />
<line x1="21.80" y1="271.14" x2="22.40" y2="271.14" stroke="#666" stroke-width="0.3" />
<line x1="21.80" y1="269.84" x2="22.40" y2="269.84" stroke="#666" stroke-width="0.3" />
<line x1="21.80" y1="268.53" x2="22.40" y2="268.53" stroke="#666" stroke-width="0.3" />
<line x1="21.80" y1="265.91" x2="22.40" y2="265.91" stroke="#666" stroke-width="0.3" />
<line x1="21.80" y1="264.60" x2="22.40" y2="264.60" stroke="#666" stroke-width="0.3" />
<line x1="21.80" y1="263.30" x2="22.40" y2="263.30" stroke="#666" stroke-width="0.3" />
<line x1="21.80" y1="261.99" x2="22.40" y2="261.99" stroke="#666" stroke-width="0.3" />
<line x1="21.80" y1="259.37" x2="22.40" y2="259.37" stroke="#666" stroke-width="0.3" />
<line x1="21.80" y1="258.06" x2="22.40" y2="258.06" stroke="#666" stroke-width="0.3" />
<line x1="21.80" y1="256.76" x2="22.40" y2="256.76" stroke="#666" stroke-width="0.3" />
<line x1="21.80" y1="255.45" x2="22.40" y2="255.45" stroke="#666" stroke-width="0.3" />
<line x1="21.80" y1="252.83" x2="22.40" y2="252.83" stroke="#666" stroke-width="0.3" />
<line x1="21.80" y1="251.52" x2="22.40" y2="251.52" stroke="#666" stroke-width="0.3" />
<line x1="21.80" y1="250.22" x2="22.40" y2="250.22" stroke="#666" stroke-width="0.3" />
<line x1="21.80" y1="248.91" x2="22.40" y2="248.91" stroke="#666" stroke-width="0.3" />
<line x1="21.80" y1="246.29" x2="22.40" y2="246.29" stroke="#666" stroke-width="0.3" />
<line x1="21.80" y1="244.98" x2="22.40" y2="244.98" stroke="#666" stroke-width="0.3" />
<line x1="21.80" y1="243.68" x2="22.40" y2="243.68" stroke="#666" stroke-width="0.3" />
<line x1="21.80" y1="242.37" x2="22.40" y2="242.37" stroke="#666" stroke-width="0.3" />
<line x1="21.80" y1="239.75" x2="22.40" y2="239.75" stroke="#666" stroke-width="0.3" />
<line x1="21.80" y1="238.44" x2="22.40" y2="238.44" stroke="#666" stroke-width="0.3" />
<line x1="21.80" y1="237.14" x2="22.40" y2="237.14" stroke="#666" stroke-width="0.3" />
<line x1="21.80" y1="235.83" x2="22.40" y2="235.83" stroke="#666" stroke-width="0.3" />
<line x1="21.80" y1="233.21" x2="22.40" y2="233.21" stroke="#666" stroke-width="0.3" />
<line x1="21.80" y1="231.90" x2="22.40" y2="231.90" stroke="#666" stroke-width="0.3" />
<line x1="21.80" y1="230.60" x2="22.40" y2="230.60" stroke="#666" stroke-width="0.3" />
<line x1="21.80" y1="229.29" x2="22.40" y2="229.29" stroke="#666" stroke-width="0.3" />
<line x1="22.40" y1="283.20" x2="435.00" y2="283.20" stroke="#8a8a8a" stroke-width="0.55" />
<text x="20.80" y="281.20" font-size="2.6" font-family="'Liberation Sans', 'DejaVu Sans', sans-serif" font-weight="normal" fill="#505050" text-anchor="end" textLength="1.45" lengthAdjust="spacingAndGlyphs" text-rendering="geometricPrecision" >0</text>
<text x="20.80" y="274.66" font-size="2.6" font-family="'Liberation Sans', 'DejaVu Sans', sans-serif" font-weight="normal" fill="#505050" text-anchor="end" textLength="3.35" lengthAdjust="spacingAndGlyphs" text-rendering="geometricPrecision" >2.5</text>
<text x="20.80" y="268.12" font-size="2.6" font-family="'Liberation Sans', 'DejaVu Sans', sans-serif" font-weight="normal" fill="#505050" text-anchor="end" textLength="1.45" lengthAdjust="spacingAndGlyphs" text-rendering="geometricPrecision" >5</text>
<text x="20.80" y="261.58" font-size="2.6" font-family="'Liberation Sans', 'DejaVu Sans', sans-serif" font-weight="normal" fill="#505050" text-anchor="end" textLength="3.35" lengthAdjust="spacingAndGlyphs" text-rendering="geometricPrecision" >7.5</text>
<text x="20.80" y="255.04" font-size="2.6" font-family="'Liberation Sans', 'DejaVu Sans', sans-serif" font-weight="normal" fill="#505050" text-anchor="end" textLength="4.80" lengthAdjust="spacingAndGlyphs" text-rendering="geometricPrecision" >10.0</text>
<text x="20.80" y="248.50" font-size="2.6" font-family="'Liberation Sans', 'DejaVu Sans', sans-serif" font-weight="normal" fill="#505050" text-anchor="end" textLength="4.80" lengthAdjust="spacingAndGlyphs" text-rendering="geometricPrecision" >12.5</text>
<text x="20.80" y="241.96" font-size="2.6" font-family="'Liberation Sans', 'DejaVu Sans', sans-serif" font-weight="normal" fill="#505050" text-anchor="end" textLength="4.80" lengthAdjust="spacingAndGlyphs" text-rendering="geometricPrecision" >15.0</text>
<text x="20.80" y="235.42" font-size="2.6" font-family="'Liberation Sans', 'DejaVu Sans', sans-serif" font-weight="normal" fill="#505050" text-anchor="end" textLength="4.80" lengthAdjust="spacingAndGlyphs" text-rendering="geometricPrecision" >17.5</text>
<text x="20.80" y="228.88" font-size="2.6" font-family="'Liberation Sans', 'DejaVu Sans', sans-serif" font-weight="normal" fill="#505050" text-anchor="end" textLength="4.80" lengthAdjust="spacingAndGlyphs" text-rendering="geometricPrecision" >20.0</text>
<line x1="45.40" y1="283.20" x2="45.40" y2="284.40" stroke="#8a8a8a" stroke-width="0.45" />
<text x="45.40" y="286.90" font-size="2.6" font-family="'Liberation Sans', 'DejaVu Sans', sans-serif" font-weight="normal" fill="#505050" text-anchor="middle" textLength="1.80" lengthAdjust="spacingAndGlyphs" text-rendering="geometricPrecision" >0</text>
<line x1="72.92" y1="283.20" x2="72.92" y2="284.00" stroke="#8a8a8a" stroke-width="0.45" />
<line x1="100.45" y1="283.20" x2="100.45" y2="284.40" stroke="#8a8a8a" stroke-width="0.45" />
<text x="100.45" y="286.90" font-size="2.6" font-family="'Liberation Sans', 'DejaVu Sans', sans-serif" font-weight="normal" fill="#505050" text-anchor="middle" textLength="5.40" lengthAdjust="spacingAndGlyphs" text-rendering="geometricPrecision" >500</text>
<line x1="127.97" y1="283.20" x2="127.97" y2="284.00" stroke="#8a8a8a" stroke-width="0.45" />
<line x1="155.50" y1="283.20" x2="155.50" y2="284.40" stroke="#8a8a8a" stroke-width="0.45" />
<text x="155.50" y="286.90" font-size="2.6" font-family="'Liberation Sans', 'DejaVu Sans', sans-serif" font-weight="normal" fill="#505050" text-anchor="middle" textLength="7.20" lengthAdjust="spacingAndGlyphs" text-rendering="geometricPrecision" >1000</text>
<line x1="183.03" y1="283.20" x2="183.03" y2="284.00" stroke="#8a8a8a" stroke-width="0.45" />
<line x1="210.55" y1="283.20" x2="210.55" y2="284.40" stroke="#8a8a8a" stroke-width="0.45" />
<text x="210.55" y="286.90" font-size="2.6" font-family="'Liberation Sans', 'DejaVu Sans', sans-serif" font-weight="normal" fill="#505050" text-anchor="middle" textLength="7.20" lengthAdjust="spacingAndGlyphs" text-rendering="geometricPrecision" >1500</text>
<line x1="238.08" y1="283.20" x2="238.08" y2="284.00" stroke="#8a8a8a" stroke-width="0.45" />
<line x1="265.60" y1="283.20" x2="265.60" y2="284.40" stroke="#8a8a8a" stroke-width="0.45" />
<text x="265.60" y="286.90" font-size="2.6" font-family="'Liberation Sans', 'DejaVu Sans', sans-serif" font-weight="normal" fill="#505050" text-anchor="middle" textLength="7.20" lengthAdjust="spacingAndGlyphs" text-rendering="geometricPrecision" >2000</text>
<line x1="293.12" y1="283.20" x2="293.12" y2="284.00" stroke="#8a8a8a" stroke-width="0.45" />
<line x1="320.65" y1="283.20" x2="320.65" y2="284.40" stroke="#8a8a8a" stroke-width="0.45" />
<text x="320.65" y="286.90" font-size="2.6" font-family="'Liberation Sans', 'DejaVu Sans', sans-serif" font-weight="normal" fill="#505050" text-anchor="middle" textLength="7.20" lengthAdjust="spacingAndGlyphs" text-rendering="geometricPrecision" >2500</text>
<line x1="348.18" y1="283.20" x2="348.18" y2="284.00" stroke="#8a8a8a" stroke-width="0.45" />
<line x1="375.70" y1="283.20" x2="375.70" y2="284.40" stroke="#8a8a8a" stroke-width="0.45" />
<text x="375.70" y="286.90" font-size="2.6" font-family="'Liberation Sans', 'DejaVu Sans', sans-serif" font-weight="normal" fill="#505050" text-anchor="middle" textLength="7.20" lengthAdjust="spacingAndGlyphs" text-rendering="geometricPrecision" >3000</text>
<line x1="403.22" y1="283.20" x2="403.22" y2="284.00" stroke="#8a8a8a" stroke-width="0.45" />
<line x1="430.75" y1="283.20" x2="430.75" y2="284.40" stroke="#8a8a8a" stroke-width="0.45" />
<text x="430.75" y="286.90" font-size="2.6" font-family="'Liberation Sans', 'DejaVu Sans', sans-serif" font-weight="normal" fill="#505050" text-anchor="middle" textLength="7.20" lengthAdjust="spacingAndGlyphs" text-rendering="geometricPrecision" >3500</text>
<line x1="458.27" y1="283.20" x2="458.27" y2="284.00" stroke="#8a8a8a" stroke-width="0.45" />
<text x="228.80" y="290.30" font-size="2.6" font-family="'Liberation Sans', 'DejaVu Sans', sans-serif" font-weight="normal" fill="#505050" text-anchor="middle" textLength="6.20" lengthAdjust="spacingAndGlyphs" text-rendering="geometricPrecision" >Time</text>
<text x="10.80" y="225.30" font-size="2.7" font-family="'Liberation Sans', 'DejaVu Sans', sans-serif" font-weight="normal" fill="#505050" text-anchor="start" textLength="3.80" lengthAdjust="spacingAndGlyphs" text-rendering="geometricPrecision" >(RU)</text>
<text transform="translate(12.30,254.90) rotate(-90)" font-size="3.2" font-family="Liberation Sans, sans-serif" fill="#6a7680" text-anchor="middle" textLength="17.70" lengthAdjust="spacingAndGlyphs" text-rendering="geometricPrecision">Relative response</text>
<text x="207.50" y="225.20" font-size="2.6" font-family="'Liberation Sans', 'DejaVu Sans', sans-serif" font-weight="normal" fill="#76828e" text-anchor="start" textLength="42.50" lengthAdjust="spacingAndGlyphs" text-rendering="geometricPrecision" >Rutin SARS-CoV-2 1:1 binding</text>
<rect x="8.2" y="280" width="1" height="0.6" fill="#555"/>
<polyline points="41.00,280.60 78.00,279.60 100.00,278.40 120.00,277.40 136.80,275.60 144.40,275.60 150.00,273.70 156.70,271.20 163.30,271.20 176.70,264.20 182.50,264.20 195.80,254.20 203.30,254.50 216.70,243.30 225.00,244.20 250.00,245.80 280.00,247.10 330.00,249.40 380.00,251.30 416.00,253.00" fill="none" stroke="#6e6a66" stroke-width="0.6" stroke-linejoin="round" />
<polyline points="41.00,280.20 60.00,279.60 78.30,278.40 100.00,277.10 117.30,276.70 136.80,275.20 144.40,275.30 150.00,273.30 156.70,270.80 163.30,271.00 176.70,263.80 182.50,264.00 195.80,253.60 203.30,254.20 216.70,242.80 225.00,244.60 250.00,247.30 280.00,248.10 330.00,249.60 380.00,250.60 416.00,250.60" fill="none" stroke="#8fc2e8" stroke-width="0.55" stroke-linejoin="round" />
<line x1="60.00" y1="278.60" x2="60.00" y2="280.00" stroke="#6aaee0" stroke-width="0.45" />
<line x1="79.00" y1="277.70" x2="79.00" y2="279.10" stroke="#6aaee0" stroke-width="0.45" />
<line x1="99.00" y1="276.50" x2="99.00" y2="277.90" stroke="#6aaee0" stroke-width="0.45" />
<line x1="118.00" y1="276.00" x2="118.00" y2="277.40" stroke="#6aaee0" stroke-width="0.45" />
<line x1="137.00" y1="274.50" x2="137.00" y2="275.90" stroke="#6aaee0" stroke-width="0.45" />
<line x1="156.00" y1="269.60" x2="156.00" y2="271.00" stroke="#6aaee0" stroke-width="0.45" />
<line x1="176.00" y1="262.70" x2="176.00" y2="264.10" stroke="#6aaee0" stroke-width="0.45" />
<line x1="196.00" y1="252.50" x2="196.00" y2="253.90" stroke="#6aaee0" stroke-width="0.45" />
<line x1="216.50" y1="241.70" x2="216.50" y2="243.10" stroke="#6aaee0" stroke-width="0.45" />
<path d="M217.3,229.3 Q207.5,236 204.3,246.2" stroke="#6aaee0" stroke-width="0.55" fill="none"/>
<path d="M203.0,244.3 L204.2,247.2 L205.6,244.6" stroke="#6aaee0" stroke-width="0.5" fill="none"/>
<path d="M217.30,240.00 L217.30,241.60" stroke="#6aaee0" stroke-width="0.5"/>
<path d="M194.70,251.80 L194.70,253.40" stroke="#6aaee0" stroke-width="0.5"/>
<path d="M157.50,272.30 L157.50,274.30 M157.50,273.30 Q158.70,272.10 159.00,274.30" stroke="#5b9fd6" stroke-width="0.45" fill="none"/>
<line x1="159.50" y1="273.80" x2="162.50" y2="273.80" stroke="#7fb3de" stroke-width="0.4" />
<path d="M177.50,268.30 L177.50,270.30 M177.50,269.30 Q178.70,268.10 179.00,270.30" stroke="#5b9fd6" stroke-width="0.45" fill="none"/>
<line x1="179.50" y1="269.80" x2="182.50" y2="269.80" stroke="#7fb3de" stroke-width="0.4" />
<path d="M195.80,257.20 L195.80,259.20 M195.80,258.20 Q197.00,257.00 197.30,259.20" stroke="#5b9fd6" stroke-width="0.45" fill="none"/>
<line x1="197.80" y1="258.70" x2="200.80" y2="258.70" stroke="#7fb3de" stroke-width="0.4" />
<text x="237.31" y="298.60" font-size="5.0" font-family="'DejaVu Sans', 'Liberation Sans', sans-serif" font-weight="bold" fill="#000" text-anchor="start" textLength="67.52" lengthAdjust="spacingAndGlyphs" >Dose-Response:</text>
<text x="40.64" y="308.40" font-size="5.3" font-family="'Liberation Sans', 'DejaVu Sans', sans-serif" font-weight="bold" fill="#f00" text-anchor="start" textLength="263.62" lengthAdjust="spacingAndGlyphs" >Concentration-dependent binding observed; likely non-specific</text>
<text x="57.16" y="314.00" font-size="5.3" font-family="'Liberation Sans', 'DejaVu Sans', sans-serif" font-weight="bold" fill="#f00" text-anchor="start" textLength="230.59" lengthAdjust="spacingAndGlyphs" >(fast-on, slow-on; fast-off, slow-off behavior exhibited)</text>
<text x="39.60" y="326.80" font-size="4.3" font-family="'Liberation Sans', 'DejaVu Sans', sans-serif" font-weight="normal" fill="#000" text-anchor="start" textLength="60.11" lengthAdjust="spacingAndGlyphs" stroke="#000" stroke-width="0.1" text-rendering="geometricPrecision"><tspan font-weight="bold" stroke-width="0.12">Chip Surface:</tspan> SA</text>
<text x="39.35" y="332.40" font-size="4.3" font-family="'Liberation Sans', 'DejaVu Sans', sans-serif" font-weight="normal" fill="#000" text-anchor="start" textLength="179.03" lengthAdjust="spacingAndGlyphs" stroke="#000" stroke-width="0.1" text-rendering="geometricPrecision"><tspan font-weight="bold" stroke-width="0.12">Buffer:</tspan> TBS-P+ (pH 7.4), 0.5 μM ZnCl<tspan font-size="3" dy="0.8">2</tspan><tspan dy="-0.8">, 2% DMSO</tspan></text>
<text x="39.31" y="337.90" font-size="4.3" font-family="'Liberation Sans', 'DejaVu Sans', sans-serif" font-weight="normal" fill="#000" text-anchor="start" textLength="106.92" lengthAdjust="spacingAndGlyphs" stroke="#000" stroke-width="0.1" text-rendering="geometricPrecision"><tspan font-weight="bold" stroke-width="0.12">Flow cell temperature:</tspan> 25 °C</text>
<text x="39.98" y="343.30" font-size="4.3" font-family="'Liberation Sans', 'DejaVu Sans', sans-serif" font-weight="normal" fill="#000" text-anchor="start" textLength="156.54" lengthAdjust="spacingAndGlyphs" stroke="#000" stroke-width="0.1" text-rendering="geometricPrecision"><tspan font-weight="bold" stroke-width="0.12">Analyte titration:</tspan> 0.4 – 100 μM (9-pt; SCK)</text>
<text x="39.30" y="348.90" font-size="4.3" font-family="'Liberation Sans', 'DejaVu Sans', sans-serif" font-weight="normal" fill="#000" text-anchor="start" textLength="80.48" lengthAdjust="spacingAndGlyphs" stroke="#000" stroke-width="0.1" text-rendering="geometricPrecision"><tspan font-weight="bold" stroke-width="0.12">Flow-rate:</tspan> 30 μL/min.</text>
<text x="39.82" y="354.70" font-size="4.3" font-family="'Liberation Sans', 'DejaVu Sans', sans-serif" font-weight="normal" fill="#000" text-anchor="start" textLength="186.59" lengthAdjust="spacingAndGlyphs" stroke="#000" stroke-width="0.1" text-rendering="geometricPrecision"><tspan font-weight="bold" stroke-width="0.12">Target/ligand:</tspan> <tspan text-decoration="underline">SARS-CoV-2 RBD; 4721 RU captured</tspan></text>
<text x="39.36" y="360.20" font-size="4.3" font-family="'Liberation Sans', 'DejaVu Sans', sans-serif" font-weight="normal" fill="#000" text-anchor="start" textLength="133.23" lengthAdjust="spacingAndGlyphs" stroke="#000" stroke-width="0.1" text-rendering="geometricPrecision"><tspan font-weight="bold" stroke-width="0.12">Response (theoretical R<tspan font-size="3" dy="0.8">max</tspan><tspan dy="-0.8">):</tspan></tspan> <tspan font-weight="bold" fill="#f00" stroke="#f00" stroke-width="0.05">99.4 RU</tspan></text>
<line x1="15.10" y1="337.20" x2="25.50" y2="337.20" stroke="#a3abb3" stroke-width="0.7" />
<line x1="15.10" y1="349.50" x2="25.50" y2="349.50" stroke="#a3abb3" stroke-width="0.7" />
<rect x="17.80" y="337.50" width="5.00" height="3.00" fill="#2e3d48"/>
<rect x="17.80" y="346.80" width="5.00" height="2.40" fill="#2e3d48"/>
<rect x="18.00" y="340.50" width="4.60" height="6.30" fill="#f8c4b8"/>
<path d="M18.10,340.50 L22.50,346.80 M22.50,340.50 L18.10,346.80 M18.10,343.65 L20.30,341.10 L22.50,343.65 L20.30,346.20 Z" stroke="#ef5f50" stroke-width="0.75" fill="none"/>
<circle cx="20.30" cy="343.65" r="0.6" fill="#fff"/>
<path d="M138.50,338.80 L139.50,339.30 L140.50,338.80 L141.50,339.30 L142.50,338.80 L143.50,339.30 L144.50,338.80 L145.50,339.30 L146.50,338.80" stroke="#e06060" stroke-width="0.35" fill="none"/>
<rect x="27" y="337" width="1.2" height="0.8" fill="#f4a090"/>
<line x1="330.90" y1="297.00" x2="330.90" y2="353.40" stroke="#666" stroke-width="0.55" />
<line x1="329.80" y1="352.40" x2="331.30" y2="352.40" stroke="#666" stroke-width="0.45" />
<line x1="329.80" y1="345.59" x2="331.30" y2="345.59" stroke="#666" stroke-width="0.45" />
<line x1="329.80" y1="338.78" x2="331.30" y2="338.78" stroke="#666" stroke-width="0.45" />
<line x1="329.80" y1="331.97" x2="331.30" y2="331.97" stroke="#666" stroke-width="0.45" />
<line x1="329.80" y1="325.16" x2="331.30" y2="325.16" stroke="#666" stroke-width="0.45" />
<line x1="329.80" y1="318.35" x2="331.30" y2="318.35" stroke="#666" stroke-width="0.45" />
<line x1="329.80" y1="311.54" x2="331.30" y2="311.54" stroke="#666" stroke-width="0.45" />
<line x1="329.80" y1="304.73" x2="331.30" y2="304.73" stroke="#666" stroke-width="0.45" />
<line x1="329.80" y1="297.92" x2="331.30" y2="297.92" stroke="#666" stroke-width="0.45" />
<line x1="330.30" y1="351.04" x2="330.90" y2="351.04" stroke="#666" stroke-width="0.3" />
<line x1="330.30" y1="349.68" x2="330.90" y2="349.68" stroke="#666" stroke-width="0.3" />
<line x1="330.30" y1="348.31" x2="330.90" y2="348.31" stroke="#666" stroke-width="0.3" />
<line x1="330.30" y1="346.95" x2="330.90" y2="346.95" stroke="#666" stroke-width="0.3" />
<line x1="330.30" y1="344.23" x2="330.90" y2="344.23" stroke="#666" stroke-width="0.3" />
<line x1="330.30" y1="342.87" x2="330.90" y2="342.87" stroke="#666" stroke-width="0.3" />
<line x1="330.30" y1="341.50" x2="330.90" y2="341.50" stroke="#666" stroke-width="0.3" />
<line x1="330.30" y1="340.14" x2="330.90" y2="340.14" stroke="#666" stroke-width="0.3" />
<line x1="330.30" y1="337.42" x2="330.90" y2="337.42" stroke="#666" stroke-width="0.3" />
<line x1="330.30" y1="336.06" x2="330.90" y2="336.06" stroke="#666" stroke-width="0.3" />
<line x1="330.30" y1="334.69" x2="330.90" y2="334.69" stroke="#666" stroke-width="0.3" />
<line x1="330.30" y1="333.33" x2="330.90" y2="333.33" stroke="#666" stroke-width="0.3" />
<line x1="330.30" y1="330.61" x2="330.90" y2="330.61" stroke="#666" stroke-width="0.3" />
<line x1="330.30" y1="329.25" x2="330.90" y2="329.25" stroke="#666" stroke-width="0.3" />
<line x1="330.30" y1="327.88" x2="330.90" y2="327.88" stroke="#666" stroke-width="0.3" />
<line x1="330.30" y1="326.52" x2="330.90" y2="326.52" stroke="#666" stroke-width="0.3" />
<line x1="330.30" y1="323.80" x2="330.90" y2="323.80" stroke="#666" stroke-width="0.3" />
<line x1="330.30" y1="322.44" x2="330.90" y2="322.44" stroke="#666" stroke-width="0.3" />
<line x1="330.30" y1="321.07" x2="330.90" y2="321.07" stroke="#666" stroke-width="0.3" />
<line x1="330.30" y1="319.71" x2="330.90" y2="319.71" stroke="#666" stroke-width="0.3" />
<line x1="330.30" y1="316.99" x2="330.90" y2="316.99" stroke="#666" stroke-width="0.3" />
<line x1="330.30" y1="315.63" x2="330.90" y2="315.63" stroke="#666" stroke-width="0.3" />
<line x1="330.30" y1="314.26" x2="330.90" y2="314.26" stroke="#666" stroke-width="0.3" />
<line x1="330.30" y1="312.90" x2="330.90" y2="312.90" stroke="#666" stroke-width="0.3" />
<line x1="330.30" y1="310.18" x2="330.90" y2="310.18" stroke="#666" stroke-width="0.3" />
<line x1="330.30" y1="308.82" x2="330.90" y2="308.82" stroke="#666" stroke-width="0.3" />
<line x1="330.30" y1="307.45" x2="330.90" y2="307.45" stroke="#666" stroke-width="0.3" />
<line x1="330.30" y1="306.09" x2="330.90" y2="306.09" stroke="#666" stroke-width="0.3" />
<line x1="330.30" y1="303.37" x2="330.90" y2="303.37" stroke="#666" stroke-width="0.3" />
<line x1="330.30" y1="302.01" x2="330.90" y2="302.01" stroke="#666" stroke-width="0.3" />
<line x1="330.30" y1="300.64" x2="330.90" y2="300.64" stroke="#666" stroke-width="0.3" />
<line x1="330.30" y1="299.28" x2="330.90" y2="299.28" stroke="#666" stroke-width="0.3" />
<line x1="330.90" y1="353.40" x2="580.00" y2="353.40" stroke="#8a8a8a" stroke-width="0.55" />
<text x="329.30" y="353.30" font-size="2.6" font-family="'Liberation Sans', 'DejaVu Sans', sans-serif" font-weight="normal" fill="#505050" text-anchor="end" textLength="1.45" lengthAdjust="spacingAndGlyphs" text-rendering="geometricPrecision" >0</text>
<text x="329.30" y="346.49" font-size="2.6" font-family="'Liberation Sans', 'DejaVu Sans', sans-serif" font-weight="normal" fill="#505050" text-anchor="end" textLength="3.35" lengthAdjust="spacingAndGlyphs" text-rendering="geometricPrecision" >2.5</text>
<text x="329.30" y="339.68" font-size="2.6" font-family="'Liberation Sans', 'DejaVu Sans', sans-serif" font-weight="normal" fill="#505050" text-anchor="end" textLength="1.45" lengthAdjust="spacingAndGlyphs" text-rendering="geometricPrecision" >5</text>
<text x="329.30" y="332.87" font-size="2.6" font-family="'Liberation Sans', 'DejaVu Sans', sans-serif" font-weight="normal" fill="#505050" text-anchor="end" textLength="3.35" lengthAdjust="spacingAndGlyphs" text-rendering="geometricPrecision" >7.5</text>
<text x="329.30" y="326.06" font-size="2.6" font-family="'Liberation Sans', 'DejaVu Sans', sans-serif" font-weight="normal" fill="#505050" text-anchor="end" textLength="4.80" lengthAdjust="spacingAndGlyphs" text-rendering="geometricPrecision" >10.0</text>
<text x="329.30" y="319.25" font-size="2.6" font-family="'Liberation Sans', 'DejaVu Sans', sans-serif" font-weight="normal" fill="#505050" text-anchor="end" textLength="4.80" lengthAdjust="spacingAndGlyphs" text-rendering="geometricPrecision" >12.5</text>
<text x="329.30" y="312.44" font-size="2.6" font-family="'Liberation Sans', 'DejaVu Sans', sans-serif" font-weight="normal" fill="#505050" text-anchor="end" textLength="4.80" lengthAdjust="spacingAndGlyphs" text-rendering="geometricPrecision" >15.0</text>
<text x="329.30" y="305.63" font-size="2.6" font-family="'Liberation Sans', 'DejaVu Sans', sans-serif" font-weight="normal" fill="#505050" text-anchor="end" textLength="4.80" lengthAdjust="spacingAndGlyphs" text-rendering="geometricPrecision" >17.5</text>
<text x="329.30" y="298.82" font-size="2.6" font-family="'Liberation Sans', 'DejaVu Sans', sans-serif" font-weight="normal" fill="#505050" text-anchor="end" textLength="4.80" lengthAdjust="spacingAndGlyphs" text-rendering="geometricPrecision" >20.0</text>
<line x1="342.20" y1="353.40" x2="342.20" y2="354.60" stroke="#8a8a8a" stroke-width="0.45" />
<text x="342.20" y="357.00" font-size="2.6" font-family="'Liberation Sans', 'DejaVu Sans', sans-serif" font-weight="normal" fill="#505050" text-anchor="middle" textLength="12.00" lengthAdjust="spacingAndGlyphs" text-rendering="geometricPrecision" >1.00e-7</text>
<line x1="355.85" y1="353.40" x2="355.85" y2="354.10" stroke="#8a8a8a" stroke-width="0.35" />
<line x1="363.84" y1="353.40" x2="363.84" y2="354.10" stroke="#8a8a8a" stroke-width="0.35" />
<line x1="369.50" y1="353.40" x2="369.50" y2="354.10" stroke="#8a8a8a" stroke-width="0.35" />
<line x1="373.90" y1="353.40" x2="373.90" y2="354.10" stroke="#8a8a8a" stroke-width="0.35" />
<line x1="377.49" y1="353.40" x2="377.49" y2="354.10" stroke="#8a8a8a" stroke-width="0.35" />
<line x1="380.53" y1="353.40" x2="380.53" y2="354.10" stroke="#8a8a8a" stroke-width="0.35" />
<line x1="383.16" y1="353.40" x2="383.16" y2="354.10" stroke="#8a8a8a" stroke-width="0.35" />
<line x1="385.47" y1="353.40" x2="385.47" y2="354.10" stroke="#8a8a8a" stroke-width="0.35" />
<line x1="387.55" y1="353.40" x2="387.55" y2="354.60" stroke="#8a8a8a" stroke-width="0.45" />
<text x="387.55" y="357.00" font-size="2.6" font-family="'Liberation Sans', 'DejaVu Sans', sans-serif" font-weight="normal" fill="#505050" text-anchor="middle" textLength="12.00" lengthAdjust="spacingAndGlyphs" text-rendering="geometricPrecision" >1.00e-6</text>
<line x1="401.20" y1="353.40" x2="401.20" y2="354.10" stroke="#8a8a8a" stroke-width="0.35" />
<line x1="409.19" y1="353.40" x2="409.19" y2="354.10" stroke="#8a8a8a" stroke-width="0.35" />
<line x1="414.85" y1="353.40" x2="414.85" y2="354.10" stroke="#8a8a8a" stroke-width="0.35" />
<line x1="419.25" y1="353.40" x2="419.25" y2="354.10" stroke="#8a8a8a" stroke-width="0.35" />
<line x1="422.84" y1="353.40" x2="422.84" y2="354.10" stroke="#8a8a8a" stroke-width="0.35" />
<line x1="425.88" y1="353.40" x2="425.88" y2="354.10" stroke="#8a8a8a" stroke-width="0.35" />
<line x1="428.51" y1="353.40" x2="428.51" y2="354.10" stroke="#8a8a8a" stroke-width="0.35" />
<line x1="430.82" y1="353.40" x2="430.82" y2="354.10" stroke="#8a8a8a" stroke-width="0.35" />
<line x1="432.90" y1="353.40" x2="432.90" y2="354.60" stroke="#8a8a8a" stroke-width="0.45" />
<text x="432.90" y="357.00" font-size="2.6" font-family="'Liberation Sans', 'DejaVu Sans', sans-serif" font-weight="normal" fill="#505050" text-anchor="middle" textLength="12.00" lengthAdjust="spacingAndGlyphs" text-rendering="geometricPrecision" >1.00e-5</text>
<line x1="446.55" y1="353.40" x2="446.55" y2="354.10" stroke="#8a8a8a" stroke-width="0.35" />
<line x1="454.54" y1="353.40" x2="454.54" y2="354.10" stroke="#8a8a8a" stroke-width="0.35" />
<line x1="460.20" y1="353.40" x2="460.20" y2="354.10" stroke="#8a8a8a" stroke-width="0.35" />
<line x1="464.60" y1="353.40" x2="464.60" y2="354.10" stroke="#8a8a8a" stroke-width="0.35" />
<line x1="468.19" y1="353.40" x2="468.19" y2="354.10" stroke="#8a8a8a" stroke-width="0.35" />
<line x1="471.23" y1="353.40" x2="471.23" y2="354.10" stroke="#8a8a8a" stroke-width="0.35" />
<line x1="473.86" y1="353.40" x2="473.86" y2="354.10" stroke="#8a8a8a" stroke-width="0.35" />
<line x1="476.17" y1="353.40" x2="476.17" y2="354.10" stroke="#8a8a8a" stroke-width="0.35" />
<line x1="478.25" y1="353.40" x2="478.25" y2="354.60" stroke="#8a8a8a" stroke-width="0.45" />
<text x="478.25" y="357.00" font-size="2.6" font-family="'Liberation Sans', 'DejaVu Sans', sans-serif" font-weight="normal" fill="#505050" text-anchor="middle" textLength="12.00" lengthAdjust="spacingAndGlyphs" text-rendering="geometricPrecision" >1.00e-4</text>
<line x1="491.90" y1="353.40" x2="491.90" y2="354.10" stroke="#8a8a8a" stroke-width="0.35" />
<line x1="499.89" y1="353.40" x2="499.89" y2="354.10" stroke="#8a8a8a" stroke-width="0.35" />
<line x1="505.55" y1="353.40" x2="505.55" y2="354.10" stroke="#8a8a8a" stroke-width="0.35" />
<line x1="509.95" y1="353.40" x2="509.95" y2="354.10" stroke="#8a8a8a" stroke-width="0.35" />
<line x1="513.54" y1="353.40" x2="513.54" y2="354.10" stroke="#8a8a8a" stroke-width="0.35" />
<line x1="516.58" y1="353.40" x2="516.58" y2="354.10" stroke="#8a8a8a" stroke-width="0.35" />
<line x1="519.21" y1="353.40" x2="519.21" y2="354.10" stroke="#8a8a8a" stroke-width="0.35" />
<line x1="521.52" y1="353.40" x2="521.52" y2="354.10" stroke="#8a8a8a" stroke-width="0.35" />
<line x1="523.60" y1="353.40" x2="523.60" y2="354.60" stroke="#8a8a8a" stroke-width="0.45" />
<text x="523.60" y="357.00" font-size="2.6" font-family="'Liberation Sans', 'DejaVu Sans', sans-serif" font-weight="normal" fill="#505050" text-anchor="middle" textLength="12.00" lengthAdjust="spacingAndGlyphs" text-rendering="geometricPrecision" >1.00e-3</text>
<line x1="537.25" y1="353.40" x2="537.25" y2="354.10" stroke="#8a8a8a" stroke-width="0.35" />
<line x1="545.24" y1="353.40" x2="545.24" y2="354.10" stroke="#8a8a8a" stroke-width="0.35" />
<line x1="550.90" y1="353.40" x2="550.90" y2="354.10" stroke="#8a8a8a" stroke-width="0.35" />
<line x1="555.30" y1="353.40" x2="555.30" y2="354.10" stroke="#8a8a8a" stroke-width="0.35" />
<line x1="558.89" y1="353.40" x2="558.89" y2="354.10" stroke="#8a8a8a" stroke-width="0.35" />
<line x1="561.93" y1="353.40" x2="561.93" y2="354.10" stroke="#8a8a8a" stroke-width="0.35" />
<line x1="564.56" y1="353.40" x2="564.56" y2="354.10" stroke="#8a8a8a" stroke-width="0.35" />
<line x1="566.87" y1="353.40" x2="566.87" y2="354.10" stroke="#8a8a8a" stroke-width="0.35" />
<line x1="568.95" y1="353.40" x2="568.95" y2="354.60" stroke="#8a8a8a" stroke-width="0.45" />
<text x="568.95" y="357.00" font-size="2.6" font-family="'Liberation Sans', 'DejaVu Sans', sans-serif" font-weight="normal" fill="#505050" text-anchor="middle" textLength="12.00" lengthAdjust="spacingAndGlyphs" text-rendering="geometricPrecision" >1.00e-2</text>
<text x="455.60" y="359.80" font-size="2.6" font-family="'Liberation Sans', 'DejaVu Sans', sans-serif" font-weight="normal" fill="#505050" text-anchor="middle" textLength="27.00" lengthAdjust="spacingAndGlyphs" text-rendering="geometricPrecision" >Concentration</text>
<text x="586.50" y="359.50" font-size="2.5" font-family="'Liberation Sans', 'DejaVu Sans', sans-serif" font-weight="normal" fill="#505050" text-anchor="start" text-rendering="geometricPrecision" >M</text>
<text x="315.50" y="295.60" font-size="2.7" font-family="'Liberation Sans', 'DejaVu Sans', sans-serif" font-weight="normal" fill="#505050" text-anchor="start" textLength="3.80" lengthAdjust="spacingAndGlyphs" text-rendering="geometricPrecision" >(RU)</text>
<text transform="translate(317.30,324.40) rotate(-90)" font-size="3.2" font-family="Liberation Sans, sans-serif" fill="#6a7680" text-anchor="middle" textLength="17.00" lengthAdjust="spacingAndGlyphs" text-rendering="geometricPrecision">Response</text>
<text x="418.50" y="296.20" font-size="2.6" font-family="'Liberation Sans', 'DejaVu Sans', sans-serif" font-weight="normal" fill="#76828e" text-anchor="start" textLength="72.00" lengthAdjust="spacingAndGlyphs" text-rendering="geometricPrecision" >Rutin SARS-CoV-2 Steady state affinity</text>
<polyline points="368.70,350.90 370.54,350.85 372.37,350.80 374.21,350.74 376.05,350.68 377.88,350.62 379.72,350.55 381.56,350.49 383.39,350.42 385.23,350.34 387.07,350.27 388.90,350.19 390.74,350.10 392.58,350.01 394.41,349.91 396.25,349.81 398.09,349.70 399.92,349.58 401.76,349.46 403.60,349.33 405.43,349.18 407.27,349.03 409.11,348.87 410.94,348.69 412.78,348.50 414.62,348.29 416.45,348.07 418.29,347.83 420.13,347.56 421.96,347.28 423.80,346.97 425.64,346.64 427.47,346.27 429.31,345.87 431.15,345.44 432.98,344.97 434.82,344.46 436.66,343.90 438.49,343.28 440.33,342.62 442.17,341.89 444.00,341.09 445.84,340.21 447.68,339.26 449.51,338.21 451.35,337.07 453.19,335.82 455.02,334.45 456.86,332.95 458.70,331.30 460.53,329.50 462.37,327.52 464.21,325.36 466.04,322.99 467.88,320.38 469.72,317.53 471.55,314.40 473.39,310.97 475.23,307.21 477.06,303.09 478.90,298.56" fill="none" stroke="#3a3a3a" stroke-width="0.7" stroke-linejoin="round" />
<circle cx="381.70" cy="350.48" r="0.5" fill="#8cc0e6"/>
<circle cx="409.80" cy="348.80" r="0.5" fill="#8cc0e6"/>
<circle cx="420.00" cy="347.58" r="0.5" fill="#8cc0e6"/>
<circle cx="437.60" cy="343.59" r="0.5" fill="#8cc0e6"/>
<circle cx="451.20" cy="337.17" r="0.5" fill="#8cc0e6"/>
<circle cx="464.80" cy="324.62" r="0.5" fill="#8cc0e6"/>
<circle cx="472.00" cy="313.60" r="0.5" fill="#8cc0e6"/>
<line x1="525.90" y1="296.50" x2="525.90" y2="353.40" stroke="#e0a0cc" stroke-width="1.15" />
<text x="466.35" y="203.20" font-size="6.0" font-family="'Liberation Sans', 'DejaVu Sans', sans-serif" font-weight="bold" fill="#000" text-anchor="start" textLength="99.07" lengthAdjust="spacingAndGlyphs" stroke="#000" stroke-width="0.22">1:1 Binding Kinetics</text>
<text x="458.26" y="212.00" font-size="5.4" font-family="'Liberation Sans', 'DejaVu Sans', sans-serif" font-weight="normal" fill="#000" text-anchor="start" textLength="39.68" lengthAdjust="spacingAndGlyphs" stroke="#000" stroke-width="0.06">k<tspan font-size="60%" dy="0.7">a</tspan><tspan dy="-0.7"> </tspan>(M<tspan font-family="DejaVu Sans">⁻¹</tspan>s<tspan font-family="DejaVu Sans">⁻¹</tspan>)</text>
<text x="543.75" y="212.00" font-size="5.4" font-family="'Liberation Sans', 'DejaVu Sans', sans-serif" font-weight="normal" fill="#000" text-anchor="start" textLength="18.34" lengthAdjust="spacingAndGlyphs" stroke="#000" stroke-width="0.06">N.D.</text>
<text x="465.10" y="222.20" font-size="5.4" font-family="'Liberation Sans', 'DejaVu Sans', sans-serif" font-weight="normal" fill="#000" text-anchor="start" textLength="26.61" lengthAdjust="spacingAndGlyphs" stroke="#000" stroke-width="0.06">k<tspan font-size="60%" dy="0.7">d</tspan><tspan dy="-0.7"> </tspan>(s<tspan font-family="DejaVu Sans">⁻¹</tspan>)</text>
<text x="544.24" y="222.00" font-size="5.4" font-family="'Liberation Sans', 'DejaVu Sans', sans-serif" font-weight="normal" fill="#000" text-anchor="start" textLength="18.50" lengthAdjust="spacingAndGlyphs" stroke="#000" stroke-width="0.06">N.D.</text>
<text x="470.95" y="230.75" font-size="5.4" font-family="'Liberation Sans', 'DejaVu Sans', sans-serif" font-weight="normal" fill="#000" text-anchor="start" textLength="14.44" lengthAdjust="spacingAndGlyphs" stroke="#000" stroke-width="0.06">λ<tspan font-size="60%" dy="0.7">1/2</tspan><tspan dy="-0.7"></tspan></text>
<text x="543.75" y="230.75" font-size="5.4" font-family="'Liberation Sans', 'DejaVu Sans', sans-serif" font-weight="normal" fill="#000" text-anchor="start" textLength="18.34" lengthAdjust="spacingAndGlyphs" stroke="#000" stroke-width="0.06">N.D.</text>
<text x="464.80" y="241.25" font-size="5.4" font-family="'Liberation Sans', 'DejaVu Sans', sans-serif" font-weight="normal" fill="#000" text-anchor="start" textLength="26.98" lengthAdjust="spacingAndGlyphs" stroke="#000" stroke-width="0.06">K<tspan font-size="60%" dy="0.7">D</tspan><tspan dy="-0.7"> </tspan>(M)</text>
<text x="543.75" y="241.25" font-size="5.4" font-family="'Liberation Sans', 'DejaVu Sans', sans-serif" font-weight="normal" fill="#000" text-anchor="start" textLength="18.34" lengthAdjust="spacingAndGlyphs" stroke="#000" stroke-width="0.06">N.D.</text>
<text x="459.37" y="251.25" font-size="5.4" font-family="'Liberation Sans', 'DejaVu Sans', sans-serif" font-weight="normal" fill="#000" text-anchor="start" textLength="38.10" lengthAdjust="spacingAndGlyphs" stroke="#000" stroke-width="0.06">R<tspan font-size="60%" dy="0.7">max</tspan><tspan dy="-0.7"> </tspan>(RU)</text>
<text x="527.28" y="251.25" font-size="5.4" font-family="'Liberation Sans', 'DejaVu Sans', sans-serif" font-weight="normal" fill="#000" text-anchor="start" textLength="51.31" lengthAdjust="spacingAndGlyphs" stroke="#000" stroke-width="0.06">16.7 (calc'd)</text>
<path d="M549.00,252.25 L550.00,252.60 L551.00,252.25 L552.00,252.60 L553.00,252.25 L554.00,252.60 L555.00,252.25 L556.00,252.60 L557.00,252.25 L558.00,252.60 L559.00,252.25 L560.00,252.60 L561.00,252.25 L562.00,252.60 L563.00,252.25 L564.00,252.60 L565.00,252.25 L566.00,252.60 L567.00,252.25 L568.00,252.60 L569.00,252.25 L570.00,252.60 L571.00,252.25 L572.00,252.60 L573.00,252.25 L574.00,252.60 L575.00,252.25" stroke="#e06060" stroke-width="0.35" fill="none"/>
<text x="527.03" y="257.50" font-size="5.4" font-family="'Liberation Sans', 'DejaVu Sans', sans-serif" font-weight="normal" fill="#000" text-anchor="start" textLength="52.31" lengthAdjust="spacingAndGlyphs" stroke="#000" stroke-width="0.06">21.0 (actual)</text>
<text x="461.23" y="265.20" font-size="5.4" font-family="'Liberation Sans', 'DejaVu Sans', sans-serif" font-weight="normal" fill="#000" text-anchor="start" textLength="34.69" lengthAdjust="spacingAndGlyphs" stroke="#000" stroke-width="0.06">Activity:</text>
<text x="527.29" y="265.00" font-size="5.4" font-family="'Liberation Sans', 'DejaVu Sans', sans-serif" font-weight="normal" fill="#000" text-anchor="start" textLength="51.30" lengthAdjust="spacingAndGlyphs" stroke="#000" stroke-width="0.06">17% (calc'd)</text>
<path d="M549.00,266.00 L550.00,266.35 L551.00,266.00 L552.00,266.35 L553.00,266.00 L554.00,266.35 L555.00,266.00 L556.00,266.35 L557.00,266.00 L558.00,266.35 L559.00,266.00 L560.00,266.35 L561.00,266.00 L562.00,266.35 L563.00,266.00 L564.00,266.35 L565.00,266.00 L566.00,266.35 L567.00,266.00 L568.00,266.35 L569.00,266.00 L570.00,266.35 L571.00,266.00 L572.00,266.35 L573.00,266.00 L574.00,266.35 L575.00,266.00" stroke="#e06060" stroke-width="0.35" fill="none"/>
<text x="527.54" y="271.25" font-size="5.4" font-family="'Liberation Sans', 'DejaVu Sans', sans-serif" font-weight="normal" fill="#000" text-anchor="start" textLength="51.79" lengthAdjust="spacingAndGlyphs" stroke="#000" stroke-width="0.06">21% (actual)</text>
<text x="475.37" y="279.50" font-size="5.4" font-family="'Liberation Sans', 'DejaVu Sans', sans-serif" font-weight="normal" fill="#000" text-anchor="start" textLength="6.87" lengthAdjust="spacingAndGlyphs" stroke="#000" stroke-width="0.06">tc</text>
<text x="543.75" y="279.50" font-size="5.4" font-family="'Liberation Sans', 'DejaVu Sans', sans-serif" font-weight="normal" fill="#000" text-anchor="start" textLength="18.34" lengthAdjust="spacingAndGlyphs" stroke="#000" stroke-width="0.06">N.D.</text>
<text x="457.64" y="289.00" font-size="5.4" font-family="'Liberation Sans', 'DejaVu Sans', sans-serif" font-weight="normal" fill="#000" text-anchor="start" textLength="41.02" lengthAdjust="spacingAndGlyphs" stroke="#000" stroke-width="0.06">Chi² (RU²)</text>
<text x="544.24" y="289.00" font-size="5.4" font-family="'Liberation Sans', 'DejaVu Sans', sans-serif" font-weight="normal" fill="#000" text-anchor="start" textLength="18.50" lengthAdjust="spacingAndGlyphs" stroke="#000" stroke-width="0.06">N.D.</text>
<rect x="585.6" y="278.3" width="0.8" height="0.8" fill="#888"/>
</svg></body></html>
